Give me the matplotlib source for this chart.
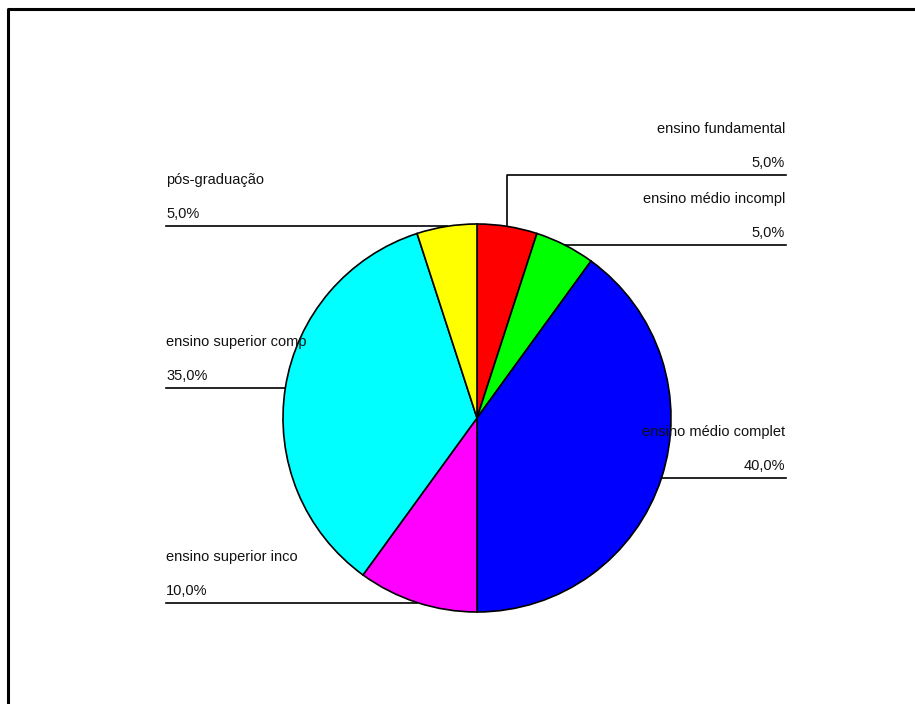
import numpy as np
import matplotlib
matplotlib.use("Agg")
import matplotlib.pyplot as plt

# Data
categories = [
    "ensino fundamental",
    "ensino médio incompl",
    "ensino médio complet",
    "ensino superior inco",
    "ensino superior comp",
    "pós-graduação",
]
shares = [5.0, 5.0, 40.0, 10.0, 35.0, 5.0]
colors = ["#ff0000", "#00ff00", "#0000ff", "#ff00ff", "#00ffff", "#ffff00"]

W, H = 915, 704
CENTER = (477, H - 418)
RADIUS = 194
sides = ["right", "right", "right", "left", "left", "left"]
rise = [51, 0, 0, 0, 0, 0]  # elbow for the first label
X_RIGHT, X_LEFT = 786, 166

plt.rcParams["font.family"] = ["Liberation Sans", "DejaVu Sans"]

fig = plt.figure(figsize=(W / 100, H / 100), dpi=100)
ax = fig.add_axes([0, 0, 1, 1])
wedges, _ = ax.pie(
    shares,
    colors=colors,
    startangle=90,
    counterclock=False,
    center=CENTER,
    radius=RADIUS,
    frame=True,
    wedgeprops=dict(edgecolor="black", linewidth=1.2),
)
ax.set_xlim(0, W)
ax.set_ylim(0, H)
ax.set_aspect("equal")
ax.axis("off")

for w, name, pct, side, up in zip(wedges, categories, shares, sides, rise):
    ang = np.deg2rad((w.theta1 + w.theta2) / 2)
    ax_ = CENTER[0] + RADIUS * np.cos(ang)
    ay = CENTER[1] + RADIUS * np.sin(ang)
    ly = ay + up
    pct_txt = f"{pct:.1f}%".replace(".", ",")
    if side == "right":
        xs = [ax_, ax_, X_RIGHT] if up else [ax_, X_RIGHT]
        ys = [ay, ly, ly] if up else [ay, ly]
        tx, ha = X_RIGHT - 1, "right"
    else:
        xs = [X_LEFT, ax_]
        ys = [ly, ay]
        tx, ha = X_LEFT, "left"
    ax.plot(xs, ys, color="black", linewidth=1.2, zorder=5)
    ax.text(tx, ly + 46, name, ha=ha, va="center", fontsize=10.5,
            color="#111111", zorder=6)
    ax.text(tx, ly + 12, pct_txt, ha=ha, va="center", fontsize=10.5,
            color="#111111", zorder=6)

# outer frame (top and left edges visible)
ax.plot([8, 8, W], [0, H - 9, H - 9], color="black", linewidth=2.2, clip_on=False)

fig.savefig("out.png", dpi=100)
